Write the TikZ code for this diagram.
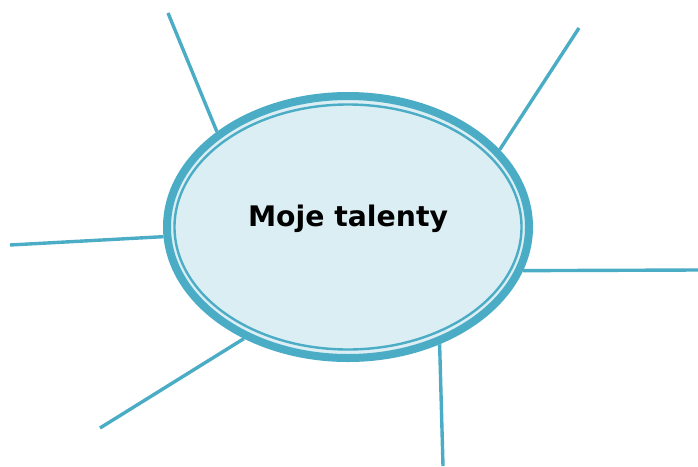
\documentclass[tikz,border=0pt]{standalone}
\usepackage{fontspec}
\setmainfont{DejaVu Sans}
\usetikzlibrary{shapes.geometric}

\definecolor{tealline}{HTML}{4BACC6}
\definecolor{tealfill}{HTML}{DBEEF4}

\tikzset{
  spoke/.style={draw=tealline, line width=3.4pt},
  bubble/.style={ellipse, draw=tealline, fill=tealfill, line width=8pt,
    inner sep=0pt, minimum width=362pt, minimum height=262pt}
}

\begin{document}
\begin{tikzpicture}[x=1pt, y=-1pt]
\useasboundingbox (0,0) rectangle (698,466);

\node[bubble] (talent) at (348,227) {};
\draw[tealline, line width=2.4pt] (talent.center) ellipse [x radius=173.5pt, y radius=122.5pt];

\node[anchor=base, font=\bfseries\fontsize{28.3}{32}\selectfont] (title) at (348,226.7) {Moje talenty};

\coordinate (tA) at (168,13);
\coordinate (tB) at (579,28);
\coordinate (tC) at (10,245);
\coordinate (tD) at (698,270);
\coordinate (tE) at (100,428);
\coordinate (tF) at (443,466);

  \draw[spoke] (talent.144.8) -- (tA);
  \draw[spoke] (talent.27.6) -- (tB);
  \draw[spoke] (talent.183) -- (tC);
  \draw[spoke] (talent.-14.6) -- (tD);
  \draw[spoke] (talent.227.5) -- (tE);
  \draw[spoke] (talent.-52.4) -- (tF);

\end{tikzpicture}
\end{document}
